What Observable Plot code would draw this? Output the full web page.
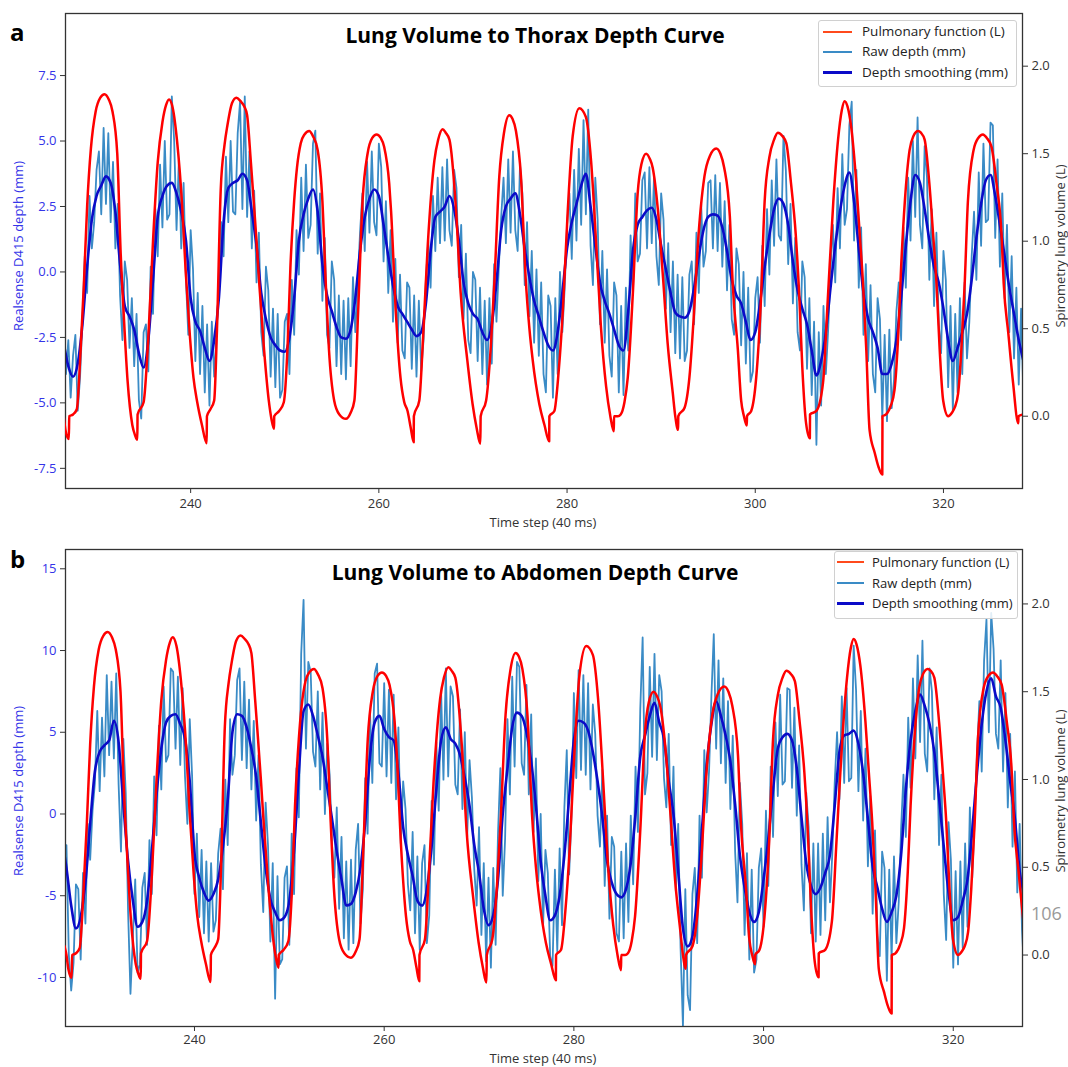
<!DOCTYPE html>
<html><head><meta charset="utf-8">
<script src="https://cdn.jsdelivr.net/npm/d3@7"></script>
<script src="https://cdn.jsdelivr.net/npm/@observablehq/plot@0.6"></script>
<style>
body{margin:0;background:#fff;font-family:'Open Sans',sans-serif;}
#wrap{position:relative;width:1068px;height:1067px;overflow:hidden;background:#fff}
.panel{position:absolute;left:0;width:1068px}
.panel svg{position:absolute;left:0;top:0}
.abs{position:absolute;white-space:nowrap;line-height:1}
.legend{position:absolute;border:1px solid #d0d0d0;border-radius:3px;background:rgba(255,255,255,0.85)}
</style></head><body><div id="wrap"></div>
<script>
// ---------------- data ----------------
const timeTicks = [240, 260, 280, 300, 320];
const thoraxDepthTicks = [-7.5, -5, -2.5, 0, 2.5, 5, 7.5];
const abdomenDepthTicks = [-10, -5, 0, 5, 10, 15];
const volumeTicks = [0, 0.5, 1, 1.5, 2];
const rawStep = 0.25, smoothStep = 0.5;

// Pulmonary function (L): [time step, volume]
const pulmonary = [
[226.3,0.05],[226.5,0.0],[226.7,-0.08],[227.05,-0.13],[227.1,0.0],[227.5,0.01],[227.9,0.04],[228.3,0.37],[228.65,0.75],[229.0,1.2],[229.4,1.53],[229.9,1.74],[230.4,1.82],[230.85,1.84],[231.3,1.81],[231.7,1.74],[232.2,1.5],[232.55,0.95],[232.9,0.57],[233.3,0.2],[233.8,-0.05],[234.1,-0.11],[234.33,-0.135],
[234.36,0.01],[235.0,0.08],[235.5,0.45],[236.0,1.0],[236.5,1.45],[237.0,1.68],[237.4,1.78],[237.7,1.81],[238.1,1.76],[238.56,1.57],[239.1,1.2],[239.47,0.83],[239.93,0.45],[240.3,0.22],[240.7,0.08],[241.2,-0.05],[241.7,-0.154],
[241.73,0.0],[242.1,0.04],[242.5,0.09],[242.8,0.5],[243.2,1.3],[243.6,1.55],[243.9,1.66],[244.4,1.79],[244.86,1.82],[245.3,1.8],[245.7,1.77],[246.0,1.72],[246.4,1.45],[246.7,1.23],[247.0,1.0],[247.3,0.75],[247.8,0.38],[248.3,0.09],[248.6,-0.02],[248.86,-0.072],
[248.88,0.0],[249.4,0.03],[249.9,0.08],[250.3,0.4],[250.6,0.85],[251.0,1.23],[251.3,1.42],[251.7,1.56],[252.1,1.61],[252.6,1.63],[253.0,1.6],[253.5,1.52],[254.0,1.23],[254.36,0.76],[254.7,0.38],[255.25,0.09],[255.8,0.01],[256.5,-0.015],
[257.0,0.02],[257.4,0.09],[257.8,0.6],[258.27,1.23],[258.8,1.5],[259.3,1.59],[259.76,1.61],[260.2,1.59],[260.56,1.54],[261.1,1.33],[261.3,1.17],[261.8,0.6],[262.3,0.22],[262.7,0.08],[263.05,0.03],[263.4,-0.07],[263.7,-0.149],
[263.72,0.0],[264.3,0.09],[264.7,0.45],[265.2,0.98],[265.9,1.46],[266.3,1.58],[266.78,1.64],[267.1,1.62],[267.5,1.58],[268.2,1.18],[268.7,0.7],[269.4,0.32],[269.96,0.07],[270.4,-0.07],[270.78,-0.157],
[270.82,0.0],[271.4,0.09],[271.9,0.4],[272.3,0.79],[272.8,1.37],[273.3,1.62],[273.86,1.72],[274.2,1.7],[274.57,1.63],[275.1,1.37],[275.6,0.79],[276.0,0.5],[276.35,0.32],[277.05,0.07],[277.6,-0.05],[278.1,-0.143],
[278.12,0.0],[278.65,0.03],[279.1,0.25],[279.55,0.6],[280.07,1.17],[280.6,1.6],[281.3,1.76],[282.0,1.71],[282.55,1.46],[283.1,0.98],[283.6,0.51],[284.15,0.17],[284.6,0.0],[284.97,-0.086],
[284.99,0.0],[285.4,0.0],[285.7,0.01],[286.1,0.08],[286.45,0.22],[286.99,0.7],[287.5,1.27],[287.9,1.44],[288.4,1.5],[288.8,1.47],[289.1,1.42],[289.65,1.18],[290.2,0.79],[290.7,0.41],[291.24,0.13],[291.5,0.0],[291.8,-0.078],
[291.82,0.0],[292.5,0.05],[293.0,0.22],[293.5,0.6],[293.9,0.98],[294.6,1.37],[295.2,1.49],[295.85,1.53],[296.3,1.5],[296.7,1.42],[297.3,1.14],[297.6,0.76],[298.15,0.38],[298.5,0.09],[298.8,0.0],[299.1,-0.053],
[299.12,0.0],[299.57,0.03],[300.1,0.22],[300.6,0.66],[301.0,1.23],[301.5,1.48],[302.0,1.58],[302.4,1.62],[302.9,1.6],[303.3,1.56],[303.8,1.33],[304.3,1.04],[304.7,0.66],[305.0,0.28],[305.4,-0.04],[305.8,-0.126],
[305.82,0.01],[306.5,0.03],[307.2,0.19],[307.7,0.66],[308.3,1.23],[308.8,1.58],[309.2,1.75],[309.5,1.8],[309.8,1.77],[310.2,1.65],[310.74,1.33],[311.1,1.04],[311.45,0.76],[311.8,0.38],[312.15,-0.08],[312.7,-0.21],[313.1,-0.29],[313.5,-0.333],
[313.52,0.0],[313.9,0.01],[314.4,0.06],[314.8,0.15],[315.2,0.47],[315.5,0.85],[315.9,1.23],[316.4,1.52],[316.8,1.6],[317.3,1.63],[317.6,1.62],[318.0,1.58],[318.5,1.33],[318.9,1.04],[319.26,0.76],[319.6,0.38],[319.97,0.09],[320.5,0.0],
[320.9,0.02],[321.2,0.05],[321.56,0.13],[321.9,0.38],[322.26,0.76],[322.6,1.23],[323.2,1.52],[323.7,1.59],[324.2,1.61],[324.6,1.59],[325.1,1.54],[325.64,1.33],[326.17,1.04],[326.4,0.76],[326.9,0.47],[327.4,0.19],[327.95,-0.04],[327.97,0.0],[328.5,0.01]
];

// Thorax: raw depth (mm), every 0.25 step from 226.5
const thoraxRawStart = 226.5;
const thoraxRaw = [
-2.1,-3.9,-2.6,-4.8,-3.2,-2.4,-5.3,-4.0,-1.8,0.6,-0.8,2.9,0.9,1.9,3.9,4.6,2.2,5.5,2.6,5.3,
1.9,4.2,0.9,2.6,-0.9,-2.6,0.4,-0.3,-2.9,-1.0,-3.6,-1.6,-4.9,-5.6,-2.3,-2.0,-3.8,0.2,-1.6,2.4,
0.6,4.1,1.7,5.0,2.0,2.2,6.7,5.0,1.6,4.3,0.9,3.4,-0.3,-2.4,1.6,0.1,-3.4,-0.8,-3.9,-1.3,
-4.6,-2.0,-5.1,-1.9,-4.0,-2.3,-0.4,1.9,0.6,4.4,1.9,5.0,2.3,2.2,5.3,6.5,2.4,6.7,2.1,4.6,
0.9,3.1,-0.4,1.5,-2.3,-3.2,0.2,-0.7,-4.0,-1.4,-4.4,-1.6,-4.8,-4.5,-1.9,-1.6,-3.9,-0.3,-2.4,1.6,
-0.1,3.6,0.8,4.1,1.3,1.8,4.9,5.4,0.7,3.0,-1.1,1.3,-2.4,-2.9,0.4,-0.3,-3.6,-0.9,-3.9,-1.1,
-4.1,-1.0,-3.6,-0.2,-2.3,-0.5,1.5,3.0,0.8,4.2,1.5,4.6,1.9,1.4,4.9,4.0,0.4,2.7,-0.8,1.6,
-1.9,0.5,-2.7,-0.1,-3.0,-3.3,-0.4,-0.6,-3.7,-0.9,-4.0,-1.1,-3.8,-2.6,-0.3,1.2,-0.6,2.9,0.8,3.6,
1.1,4.0,1.2,4.3,1.6,1.0,3.9,3.2,-0.2,1.8,-1.8,0.7,-2.6,-3.1,0.0,-0.3,-3.4,-0.6,-3.9,-1.1,
-4.3,-1.0,-3.5,0.3,-1.9,0.2,2.1,3.6,1.1,4.3,1.5,4.6,1.6,0.8,4.1,3.0,-0.5,1.9,-1.7,0.8,
-2.7,0.1,-3.2,-0.4,-3.9,-4.6,-0.9,-1.3,-4.8,-1.0,-3.9,0.0,-2.3,-0.6,1.8,3.0,0.5,3.9,1.2,4.7,
1.8,5.8,2.2,6.2,1.0,-0.5,3.6,2.0,-2.0,0.8,-2.7,0.1,-3.2,-4.0,-0.4,-0.9,-4.6,-1.3,-4.7,-0.6,
-3.0,1.4,-0.8,3.0,0.4,0.7,3.5,3.8,0.9,4.0,1.1,3.7,0.6,-0.5,3.0,2.0,-1.4,1.1,-2.3,0.4,
-3.1,-0.1,-3.3,-0.2,-3.4,-3.0,-0.1,0.4,-2.0,1.5,-0.8,2.6,0.2,0.8,3.4,3.5,0.9,3.7,0.8,3.4,
0.2,2.7,-0.7,1.8,-1.8,-2.4,0.9,0.3,-2.8,0.0,-3.5,-0.6,-4.2,-3.8,-1.0,-0.2,-2.7,1.0,-1.3,2.4,
-0.1,3.5,1.0,4.3,1.4,1.2,5.2,3.9,0.3,2.6,-1.2,1.3,-2.3,-3.0,0.4,-0.2,-3.7,-1.0,-4.7,-1.9,
-6.6,-2.3,-5.1,-1.3,-3.9,-2.2,0.1,1.8,-0.4,3.2,0.9,4.5,1.8,2.4,5.6,6.5,1.2,3.9,-0.6,1.7,
-2.4,0.3,-3.4,-0.5,-3.9,-4.6,-1.0,-1.8,-5.6,-2.4,-5.7,-2.2,-5.2,-4.1,-1.5,-0.4,-2.6,1.7,-0.6,3.6,
1.2,5.0,2.1,5.9,1.8,0.9,4.8,3.6,-0.3,2.4,-1.3,1.5,-2.0,-3.1,0.8,-0.3,-4.4,-1.3,-5.3,-1.6,
-4.6,-1.0,-3.9,-0.4,-3.3,-1.9,0.6,2.3,-0.3,3.8,1.0,4.9,1.9,2.0,5.7,5.6,1.3,4.3,0.2,3.0,
-1.0,1.8,-2.3,0.6,-3.3,-0.6,-4.3,-1.4,-4.8
];

// Thorax: depth smoothing (mm), every 0.5 step from 226.5
const thoraxSmoothStart = 226.5;
const thoraxSmooth = [
-2.7,-3.6,-4.0,-3.5,-2.0,0.2,2.0,2.9,3.3,3.65,
3.4,2.3,0.3,-1.3,-1.7,-2.2,-3.1,-3.65,-2.6,-0.3,
2.1,2.9,3.3,3.4,3.0,2.3,1.2,-1.0,-1.9,-2.25,
-2.9,-3.4,-2.6,-1.0,1.9,3.2,3.4,3.5,3.75,3.5,
2.3,1.0,-0.8,-1.8,-2.5,-2.8,-3.0,-3.05,-2.5,-1.0,
1.2,2.2,2.8,3.15,2.3,0.3,-0.9,-1.5,-2.1,-2.5,
-2.55,-2.2,-1.0,0.8,2.1,2.8,3.15,2.9,1.8,0.6,
-0.5,-1.3,-1.6,-1.9,-2.2,-2.45,-2.3,-1.2,0.8,2.1,
2.3,2.5,2.9,2.4,1.2,-0.4,-1.2,-1.6,-1.8,-2.3,
-2.6,-2.0,-0.4,1.6,2.5,2.8,3.0,2.2,0.9,-0.2,
-1.1,-1.7,-2.3,-2.8,-3.0,-2.3,-0.8,0.9,1.9,2.6,
3.3,3.75,2.5,1.0,-0.4,-1.1,-1.6,-2.2,-2.8,-3.0,
-1.5,0.8,1.8,2.1,2.35,2.45,2.0,1.0,0.1,-0.8,
-1.55,-1.7,-1.75,-1.5,-0.6,0.6,1.6,2.1,2.2,2.15,
1.7,0.8,-0.3,-0.9,-1.2,-1.9,-2.6,-2.3,-1.2,0.2,
1.4,2.4,2.8,2.6,1.8,0.4,-0.7,-1.4,-2.0,-3.0,
-3.95,-3.4,-2.3,-0.6,1.0,2.3,3.3,3.8,2.7,0.9,
-0.8,-1.8,-2.3,-2.9,-3.9,-3.9,-3.5,-2.6,-1.0,1.0,
2.7,3.7,3.4,2.4,1.2,0.2,-0.4,-1.4,-2.6,-3.4,
-2.9,-2.3,-1.6,-0.3,1.3,2.6,3.5,3.7,2.9,1.8,
0.6,-0.6,-1.6,-2.6,-3.4
];

// Abdomen: raw depth (mm), every 0.25 step from 226.0
const abdomenRawStart = 226.0;
const abdomenRaw = [
-0.2,-4.8,-1.9,-8.6,-10.8,-9.1,-4.3,-4.6,-8.9,-3.6,-6.7,-0.6,-2.8,0.2,1.9,6.3,1.4,5.9,2.3,8.5,
3.6,8.1,3.4,8.6,1.8,-2.3,4.6,1.3,-6.0,-11.0,-7.6,-4.0,-9.7,-9.2,-4.5,-3.6,-8.0,-1.6,-4.9,2.3,
-1.3,5.4,1.5,7.8,3.2,3.6,8.9,8.7,4.0,8.4,3.0,7.7,2.3,-0.6,5.8,2.3,-4.9,-1.2,-6.3,-2.2,
-7.3,-2.9,-7.8,-3.0,-7.2,-6.5,-2.4,-0.9,-4.6,2.1,-1.9,5.8,2.4,3.6,8.2,8.9,3.3,8.1,2.8,7.0,
1.5,5.7,-0.4,3.6,-3.1,-6.0,0.7,-1.9,-7.8,-3.0,-11.3,-3.8,-9.2,-8.9,-3.9,-3.2,-8.0,-1.2,-4.9,2.8,
-0.2,9.8,13.1,4.0,9.3,8.7,3.8,2.9,7.5,1.5,6.2,0.0,4.3,2.4,-1.9,-3.9,0.4,-5.8,-1.4,-7.6,
-2.9,-8.3,-2.8,-7.9,-2.2,-0.6,-6.7,-4.6,2.2,-1.2,6.3,1.9,8.6,9.2,3.1,2.9,8.0,2.3,7.6,1.9,
7.3,0.9,5.3,-1.8,2.0,0.3,-4.3,-5.9,-1.1,-7.3,-2.6,-8.3,-3.0,-1.9,-7.9,-6.2,0.8,-3.1,4.4,0.2,
7.5,2.1,8.9,2.3,7.8,7.2,1.8,1.2,6.4,0.3,5.0,-1.4,3.3,1.0,-3.4,-5.6,-0.8,-7.4,-3.0,-9.0,
-3.9,-9.4,-3.3,-8.0,-1.2,2.8,-5.0,-1.5,5.8,1.2,8.4,2.9,9.3,9.0,3.1,2.4,7.9,1.2,6.1,-1.1,
3.4,-4.1,0.0,-6.9,-2.2,-3.6,-8.7,-9.3,-3.4,-8.4,-2.1,-6.8,0.4,3.9,-3.7,-0.1,7.4,2.2,8.8,2.7,
8.5,2.4,8.0,1.5,6.7,4.9,-0.1,-2.0,2.7,-4.4,-0.1,-6.4,-1.4,-2.0,-7.3,-7.8,-2.3,-7.6,-1.8,-6.6,
-0.1,-4.3,2.9,-1.1,6.4,10.8,1.2,2.5,9.0,3.5,9.8,3.3,8.5,7.5,2.2,0.4,4.9,-1.9,2.9,-4.7,
-0.6,-8.2,-13.0,-4.6,-11.1,-12.0,-4.9,-3.3,-7.9,-0.1,-3.9,3.9,0.1,2.6,7.2,11.0,4.0,9.4,3.1,8.3,
1.9,6.9,0.3,4.8,-2.3,-5.4,1.9,-0.6,-7.4,-2.4,-8.9,-3.4,-9.7,-8.9,-3.3,-2.1,-6.9,0.2,-4.4,2.9,
-1.4,5.6,1.1,7.3,1.8,2.0,7.7,7.6,1.6,6.5,-0.1,4.2,-3.1,-5.9,1.3,-0.8,-7.3,-1.8,-7.8,-1.8,
-7.4,-1.2,-6.5,-0.2,-5.4,-2.4,1.9,5.0,0.9,7.2,1.9,7.7,2.0,2.2,10.3,7.6,1.4,6.3,-0.4,4.0,
-3.2,1.1,-6.1,-1.0,-7.4,-8.7,-2.3,-3.3,-10.2,-3.4,-8.9,-2.6,-7.9,-5.4,-0.9,2.4,-1.4,5.9,1.6,8.3,
3.4,9.7,4.4,10.6,3.7,2.6,8.9,7.5,0.9,5.3,-1.9,2.4,-4.9,-7.7,-0.5,-2.8,-9.4,-3.5,-9.2,-2.9,
-8.2,-1.8,-6.9,0.4,-3.9,-0.4,3.6,6.9,2.6,9.4,11.9,5.0,12.3,10.1,4.9,4.0,9.4,2.6,7.4,0.4,
4.9,-2.0,2.6,-4.8,-0.6,-7.1,-10.0
];

// Abdomen: depth smoothing (mm), every 0.5 step from 226.0
const abdomenSmoothStart = 226.0;
const abdomenSmooth = [
-1.5,-3.3,-5.6,-7.0,-6.3,-4.2,-0.6,2.6,3.8,4.2,
4.5,5.7,4.4,0.6,-2.9,-5.3,-6.9,-6.6,-5.3,-2.3,
1.2,4.0,5.6,6.0,6.1,5.5,4.6,2.0,-2.4,-3.9,
-4.8,-5.3,-4.9,-4.0,-2.0,0.8,5.0,6.1,6.0,5.3,
4.0,2.3,-0.5,-3.3,-5.2,-6.0,-6.5,-6.3,-5.3,-2.2,
2.5,6.3,6.7,6.0,4.8,3.5,1.6,-0.3,-2.3,-4.0,
-5.6,-5.5,-4.8,-3.3,-0.5,3.5,5.6,6.0,5.2,4.7,
4.5,2.5,-0.8,-2.5,-3.8,-5.3,-5.6,-4.6,-2.0,1.5,
4.5,5.3,4.6,4.3,3.6,2.2,0.5,-1.9,-3.6,-5.8,
-6.8,-6.2,-4.0,0.0,2.8,5.3,6.2,6.0,5.0,3.2,
0.5,-2.9,-5.0,-6.5,-6.2,-5.0,-2.5,1.0,4.5,5.7,
5.6,5.1,3.8,2.0,-0.2,-2.9,-4.2,-4.9,-5.1,-4.6,
-3.0,0.0,3.5,4.8,6.0,6.8,5.6,4.6,2.0,0.0,
-3.5,-7.0,-8.1,-7.5,-5.0,-1.0,3.0,5.5,6.9,6.0,
4.8,3.2,0.6,-2.5,-4.5,-6.0,-6.6,-6.0,-4.0,-1.5,
1.5,4.0,4.7,4.9,4.5,2.8,-0.2,-3.0,-4.4,-4.9,
-4.5,-3.6,-2.5,0.5,3.8,4.8,4.9,5.1,4.3,2.5,
-0.3,-3.2,-4.5,-5.8,-6.6,-6.0,-5.0,-2.5,1.5,4.5,
6.3,7.3,6.6,5.5,3.8,1.0,-2.0,-4.8,-6.5,-6.3,
-5.3,-4.0,-1.0,2.5,5.5,7.5,8.3,7.2,6.5,4.5,
2.0,-0.3,-3.5,-5.0
];

// ---------------- drawing ----------------
const wrap = document.getElementById("wrap");
const FONT = "'Open Sans', 'Noto Sans', sans-serif";

function addText(txt, css) {
  const d = document.createElement("div");
  d.className = "abs";
  d.textContent = txt;
  Object.assign(d.style, css);
  wrap.appendChild(d);
  return d;
}

function makePanel(cfg) {
  const el = document.createElement("div");
  el.className = "panel";
  el.style.top = cfg.top + "px";
  el.style.height = cfg.height + "px";
  wrap.appendChild(el);
  const rawRows = cfg.raw.map((v, i) => ({t: cfg.rawStart + i * rawStep, v}));
  const smoothRows = cfg.smooth.map((v, i) => ({t: cfg.smoothStart + i * smoothStep, v}));
  const common = {
    width: 1068, height: cfg.height,
    marginTop: cfg.mt, marginBottom: cfg.mb, marginLeft: 65, marginRight: 46,
    style: {fontFamily: FONT, fontSize: "13px", background: "transparent", overflow: "visible", color: "#333"}
  };
  const left = Plot.plot({
    ...common,
    x: {domain: cfg.xDomain, axis: null},
    y: {domain: cfg.yDomain, axis: null},
    marks: [
      Plot.line(rawRows, {x: "t", y: "v", stroke: "#3a8bc6", strokeWidth: 1.8, clip: true}),
      Plot.line(smoothRows, {x: "t", y: "v", stroke: "#0b0bc8", strokeWidth: 2.6, curve: "monotone-x", clip: true}),
      Plot.frame({stroke: "#333", strokeWidth: 1.3}),
      Plot.axisY(cfg.depthTicks, {anchor: "left", tickSize: 5, tickPadding: 4, tickFormat: cfg.depthFmt, stroke: "#333", fill: "#3434e8", label: null}),
      Plot.axisX(timeTicks, {anchor: "bottom", tickSize: 5, tickPadding: cfg.xPad, tickFormat: d => String(d), stroke: "#333", fill: "#333", label: null})
    ]
  });
  const right = Plot.plot({
    ...common,
    x: {domain: cfg.xDomain, axis: null},
    y: {domain: cfg.vDomain, axis: null},
    marks: [
      Plot.line(pulmonary, {x: d => d[0], y: d => d[1], stroke: "#ff0000", strokeWidth: 2.5, curve: "monotone-x", clip: true}),
      Plot.axisY(volumeTicks, {anchor: "right", tickSize: 5, tickPadding: 4, tickFormat: d => d.toFixed(1), stroke: "#333", fill: "#333", label: null})
    ]
  });
  el.appendChild(left);
  el.appendChild(right);

  addText(cfg.letter, {left: "10px", top: cfg.letterTop + "px", fontSize: "24px", fontWeight: "700", fontFamily: FONT, color: "#000"});
  addText(cfg.title, {left: "535px", top: cfg.titleY + "px", transform: "translate(-50%,-50%)", fontSize: "21px", fontWeight: "700", fontFamily: FONT, color: "#000"});
  addText("Realsense D415 depth (mm)", {left: "18px", top: cfg.axisMidY + "px", transform: "translate(-50%,-50%) rotate(-90deg)", fontSize: "13px", fontFamily: FONT, color: "#3434e8"});
  addText("Spirometry lung volume (L)", {left: "1060px", top: cfg.axisMidY + "px", transform: "translate(-50%,-50%) rotate(-90deg)", fontSize: "13px", fontFamily: FONT, color: "#333"});
  addText("Time step (40 ms)", {left: "543px", top: cfg.xLabelY + "px", transform: "translate(-50%,-50%)", fontSize: "13px", fontFamily: FONT, color: "#333"});

  const L = cfg.legend;
  const box = document.createElement("div");
  box.className = "legend";
  Object.assign(box.style, {left: L.x + "px", top: L.y + "px", width: L.w + "px", height: L.h + "px"});
  wrap.appendChild(box);
  const entries = [
    {label: "Pulmonary function (L)", color: "#ff4a1c", w: 2},
    {label: "Raw depth (mm)", color: "#3a8bc6", w: 2},
    {label: "Depth smoothing (mm)", color: "#0b0bc8", w: 3}
  ];
  entries.forEach((e, i) => {
    const cy = L.y + L.rows[i];
    const ln = document.createElement("div");
    Object.assign(ln.style, {position: "absolute", left: L.lx0 + "px", width: (L.lx1 - L.lx0) + "px", top: (cy - e.w / 2) + "px", height: e.w + "px", background: e.color});
    wrap.appendChild(ln);
    addText(e.label, {left: L.tx + "px", top: cy + "px", transform: "translateY(-50%)", fontSize: L.fs + "px", fontFamily: FONT, color: "#222"});
  });
}

makePanel({
  top: 0, height: 530, mt: 13, mb: 42, xPad: 5,
  xDomain: [226.7, 328.4], yDomain: [-8.27, 9.87], vDomain: [-0.413, 2.301],
  raw: thoraxRaw, rawStart: thoraxRawStart, smooth: thoraxSmooth, smoothStart: thoraxSmoothStart,
  depthTicks: thoraxDepthTicks, depthFmt: d => d.toFixed(1),
  letter: "a", letterTop: 20, title: "Lung Volume to Thorax Depth Curve", titleY: 35,
  axisMidY: 246, xLabelY: 522,
  legend: {x: 818, y: 20, w: 197, h: 65, rows: [11.7, 32.3, 52.7], lx0: 823, lx1: 852, tx: 862, fs: 13.5}
});
makePanel({
  top: 530, height: 537, mt: 19, mb: 41, xPad: 3,
  xDomain: [226.4, 327.3], yDomain: [-13.0, 16.18], vDomain: [-0.407, 2.31],
  raw: abdomenRaw, rawStart: abdomenRawStart, smooth: abdomenSmooth, smoothStart: abdomenSmoothStart,
  depthTicks: abdomenDepthTicks, depthFmt: d => d.toFixed(0),
  letter: "b", letterTop: 547, title: "Lung Volume to Abdomen Depth Curve", titleY: 572,
  axisMidY: 791, xLabelY: 1058,
  legend: {x: 834, y: 551, w: 182, h: 66, rows: [11.3, 31.7, 52.3], lx0: 837, lx1: 864, tx: 872, fs: 13}
});
addText("106", {left: "1031px", top: "913px", transform: "translateY(-50%)", fontSize: "18px", fontFamily: FONT, color: "#999"});
</script></body></html>
